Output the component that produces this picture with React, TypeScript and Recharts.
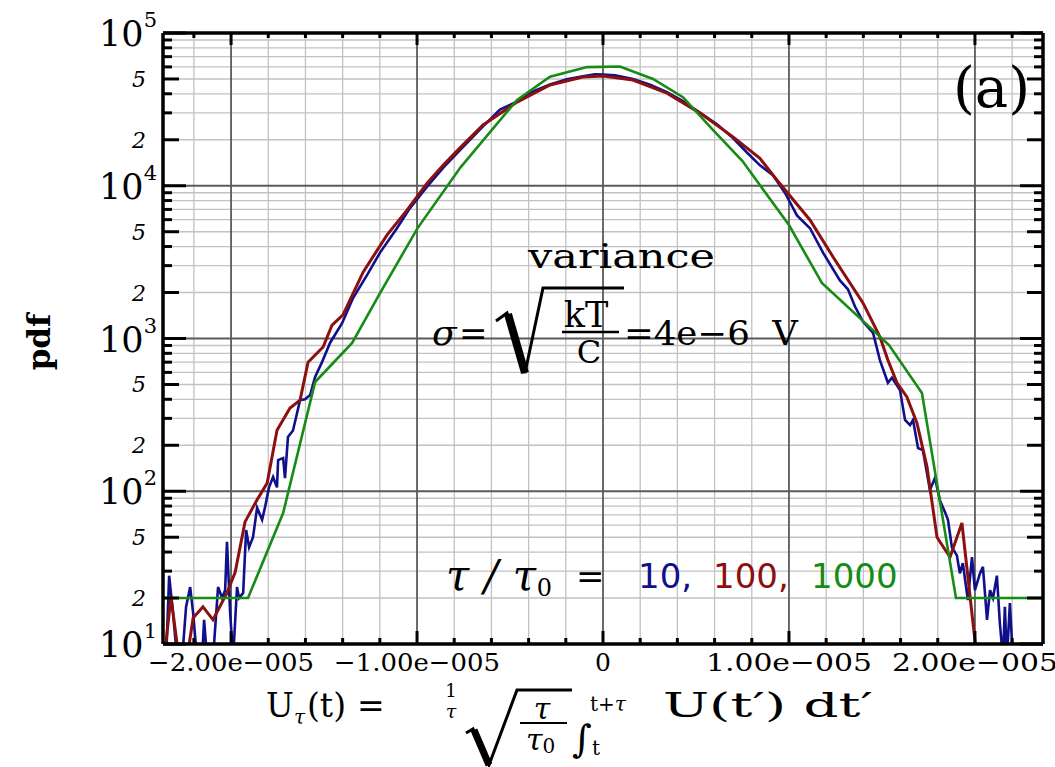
import React from 'react';
import { LineChart, Line, XAxis, YAxis, CartesianGrid } from 'recharts';

// x values are in units of 1e-5 V, y values are pdf counts
const blueX = [
  -2.349, -2.333, -2.312, -2.29, -2.263, -2.242, -2.22, -2.204, -2.183, -2.156,
  -2.145, -2.129, -2.097, -2.07, -2.048, -2.032, -2.022, -2.005, -1.989, -1.968,
  -1.957, -1.935, -1.919, -1.903, -1.882, -1.86, -1.833, -1.817, -1.796, -1.774,
  -1.753, -1.747, -1.72, -1.71, -1.694, -1.667, -1.629, -1.602, -1.575, -1.548,
  -1.511, -1.468, -1.403, -1.344, -1.269, -1.199, -1.108, -1.038, -0.946, -0.86,
  -0.769, -0.645, -0.554, -0.462, -0.376, -0.285, -0.194, -0.108, -0.043, 0,
  0.065, 0.161, 0.253, 0.344, 0.43, 0.522, 0.613, 0.699, 0.774, 0.844,
  0.914, 0.978, 1.043, 1.113, 1.183, 1.274, 1.317, 1.355, 1.398, 1.452,
  1.489, 1.532, 1.554, 1.597, 1.624, 1.651, 1.667, 1.694, 1.72, 1.758,
  1.785, 1.812, 1.839, 1.855, 1.876, 1.903, 1.919, 1.935, 1.962, 1.984,
  2.0, 2.027, 2.043, 2.065, 2.081, 2.097, 2.118, 2.134, 2.151, 2.161,
  2.172, 2.188, 2.204,
];
const blueY = [
  8, 28, 15.9, 8, 8, 17.5, 23.6, 16, 8, 8,
  14.4, 8, 8, 23.6, 20, 22.5, 46.6, 16, 8, 23.6,
  20, 21.6, 55.7, 43, 50, 78, 65, 79, 106, 124,
  106, 160, 165, 122, 227, 250, 395, 400, 426, 560,
  700, 935, 1260, 1840, 2600, 3650, 5270, 7140, 9850, 13100,
  17100, 24500, 31500, 35600, 41500, 46000, 49800, 52000, 53600, 53500,
  52800, 50000, 45800, 41000, 35800, 30000, 25300, 20500, 16500, 13600,
  11700, 9000, 6400, 5270, 3650, 2400, 2100, 1620, 1290, 1090,
  722, 513, 554, 460, 293, 271, 293, 192, 186, 102,
  122, 87, 73, 65, 43, 38, 29, 33.8, 19.4, 37,
  22.5, 29, 32, 14.4, 22.5, 20, 28, 13.7, 8, 17.5,
  8, 18.5, 8,
];

const redX = [
  -2.36, -2.323, -2.28, -2.237, -2.204, -2.151, -2.097, -2.022, -1.978, -1.925,
  -1.86, -1.806, -1.753, -1.683, -1.629, -1.586, -1.505, -1.457, -1.398, -1.29,
  -1.161, -1.054, -0.946, -0.86, -0.769, -0.645, -0.462, -0.285, -0.108, 0,
  0.161, 0.344, 0.522, 0.699, 0.844, 0.935, 1.113, 1.237, 1.398, 1.489,
  1.532, 1.581, 1.634, 1.688, 1.742, 1.796, 1.866, 1.93, 2.011,
];
const redY = [
  8, 20.3, 8, 8, 14.8, 17.5, 14.4, 21.6, 29.5, 63,
  88, 113, 251, 351, 395, 700, 880, 1225, 1430, 2720,
  4770, 6930, 10400, 13600, 17700, 25000, 35300, 45700, 51500, 52300,
  49200, 40400, 29900, 20900, 15100, 10900, 5970, 3420, 1710, 1025,
  722, 513, 414, 280, 145, 50, 37, 62, 8,
];

const greenX = [
  -2.366, -1.909, -1.72, -1.548, -1.349, -1.199, -0.997, -0.766, -0.462, -0.285,
  -0.086, 0.091, 0.269, 0.43, 0.591, 0.75, 1.0, 1.177, 1.538, 1.715,
  1.898, 2.366,
];
const greenY = [
  20, 20, 72, 519, 935, 1985, 5280, 13200, 36500, 51800,
  59800, 60400, 50000, 38000, 23200, 14500, 5530, 2310, 906, 440,
  20, 20,
];

const xMajor = [-2, -1, 0, 1, 2];
const xMinor = [
  -2.2, -1.8, -1.6, -1.4, -1.2, -0.8, -0.6, -0.4, -0.2,
  0.2, 0.4, 0.6, 0.8, 1.2, 1.4, 1.6, 1.8, 2.2,
];
const yDecades = [10, 100, 1000, 10000, 100000];
const yMantissas = [2, 3, 4, 5, 6, 7, 8, 9];
const yMinor = yDecades.slice(0, 4).flatMap((d) => yMantissas.map((m) => m * d));

const xTicks = [...xMajor, ...xMinor].sort((a, b) => a - b);
const yTicks = [...yDecades, ...yMinor].sort((a, b) => a - b);

const X_DOMAIN = [-2.366, 2.366];
const Y_DOMAIN = [10, 100000];

const W = 1055;
const H = 767;
const PLOT_LEFT = 163;
const PLOT_RIGHT = 1043;
const PLOT_TOP = 33;
const PLOT_BOTTOM = 644;

const BLUE = '#10108c';
const RED = '#8c1010';
const GREEN = '#168c16';
const SERIF = '"DejaVu Serif", serif';

const toPoints = (xs: number[], ys: number[]) => xs.map((x, i) => ({ x, y: ys[i] }));
const blueData = toPoints(blueX, blueY);
const redData = toPoints(redX, redY);
const greenData = toPoints(greenX, greenY);

const mantissa = (v: number) => Math.round(v / Math.pow(10, Math.floor(Math.log10(v) + 1e-9)));
const yTickLen = (v: number) => {
  const m = mantissa(v);
  return m === 1 ? 23 : m === 2 || m === 5 ? 16 : 9;
};
const isMajorX = (v: number) => Math.abs(v - Math.round(v)) < 1e-6;

const formatX = (v: number) => {
  if (Math.abs(v) < 1e-9) return '0';
  return `${v < 0 ? '\u2212' : ''}${Math.abs(v).toFixed(2)}e\u2212005`;
};

const LeftTick = (props: any) => {
  const { y, payload } = props;
  const v = payload.value;
  const m = mantissa(v);
  let label = null;
  if (m === 1) {
    const e = Math.round(Math.log10(v));
    label = (
      <text x={157} y={y + 13} textAnchor="end" fontFamily={SERIF} fill="#000">
        <tspan fontSize={35}>10</tspan>
        <tspan fontSize={21} dy={-19}>{e}</tspan>
      </text>
    );
  } else if (m === 2 || m === 5) {
    label = (
      <text x={146} y={y + 8} textAnchor="end" fontFamily={SERIF} fontStyle="italic" fontSize={22} fill="#000">
        {m}
      </text>
    );
  }
  return (
    <g>
      <line x1={PLOT_LEFT} x2={PLOT_LEFT + yTickLen(v)} y1={y} y2={y} stroke="#000" strokeWidth={3} />
      {label}
    </g>
  );
};

const RightTick = (props: any) => {
  const { y, payload } = props;
  return (
    <line x1={PLOT_RIGHT - yTickLen(payload.value)} x2={PLOT_RIGHT} y1={y} y2={y} stroke="#000" strokeWidth={3} />
  );
};

const BottomTick = (props: any) => {
  const { x, payload } = props;
  const v = payload.value;
  const major = isMajorX(v);
  const label = formatX(v);
  return (
    <g>
      <line x1={x} x2={x} y1={PLOT_BOTTOM} y2={PLOT_BOTTOM - (major ? 13 : 6)} stroke="#000" strokeWidth={3} />
      {major && (
        <text
          x={x}
          y={671}
          textAnchor="middle"
          fontFamily={SERIF}
          fontSize={25}
          fill="#000"
          textLength={label.length > 1 ? 166 : undefined}
          lengthAdjust="spacingAndGlyphs"
        >
          {label}
        </text>
      )}
    </g>
  );
};

const TopTick = (props: any) => {
  const { x, payload } = props;
  const major = isMajorX(payload.value);
  return <line x1={x} x2={x} y1={PLOT_TOP} y2={PLOT_TOP + (major ? 12 : 5)} stroke="#000" strokeWidth={3} />;
};

const frame = { stroke: '#000', strokeWidth: 3.5 };

function Annotations() {
  return (
    <svg
      width={W}
      height={H}
      style={{ position: 'absolute', left: 0, top: 0, pointerEvents: 'none' }}
      fontFamily={SERIF}
    >
      {/* panel tag */}
      <text x={1030} y={107} textAnchor="end" fontSize={56}>(a)</text>

      {/* y axis title */}
      <text x={50} y={342} fontSize={31} fontWeight="bold" textAnchor="middle" transform="rotate(-90 50 342)">
        pdf
      </text>

      {/* variance formula */}
      <text x={528} y={268} fontSize={33} textLength={187} lengthAdjust="spacingAndGlyphs">
        variance
      </text>
      <text x={432} y={345} fontSize={36} fontStyle="italic">σ</text>
      <text x={459} y={345} fontSize={34}>=</text>
      <polyline points="496,321 507,313 525,373 543,288 624,288" fill="none" stroke="#000" strokeWidth={3} />
      <line x1={508} y1={314} x2={525} y2={373} stroke="#000" strokeWidth={8} />
      <text x={586} y={327} fontSize={35} textAnchor="middle">kT</text>
      <line x1={562} x2={619} y1={332} y2={332} stroke="#000" strokeWidth={2.5} />
      <text x={589} y={363} fontSize={32} textAnchor="middle">C</text>
      <text x={624} y={345} fontSize={34} textLength={174} lengthAdjust="spacingAndGlyphs">
        =4e{'\u2212'}6{'\u00a0\u00a0'}V
      </text>

      {/* averaging times */}
      <text x={446} y={590} fontSize={42} fontStyle="italic" textLength={106} lengthAdjust="spacing">
        τ / τ<tspan fontSize={24} fontStyle="normal" dy={6}>0</tspan>
      </text>
      <text x={576} y={588} fontSize={34}>=</text>
      <text y={588} fontSize={34} fontFamily='"DejaVu Sans", sans-serif'>
        <tspan x={638} fill={BLUE}>10,</tspan>
        <tspan x={713} fill={RED}>100,</tspan>
        <tspan x={811} fill={GREEN}>1000</tspan>
      </text>

      {/* x axis title */}
      <text x={266} y={717} fontSize={33}>U</text>
      <text x={294} y={724} fontSize={20} fontStyle="italic">τ</text>
      <text x={307} y={717} fontSize={33}>(t)</text>
      <text x={357} y={717} fontSize={33}>=</text>
      <text x={451} y={697} fontSize={18} textAnchor="middle">1</text>
      <text x={451} y={718} fontSize={19} fontStyle="italic" textAnchor="middle">τ</text>
      <polyline points="466,733 473,729 489,765 517,690 572,690" fill="none" stroke="#000" strokeWidth={3} />
      <line x1={474} y1={730} x2={489} y2={765} stroke="#000" strokeWidth={7} />
      <text x={542} y={719} fontSize={30} fontStyle="italic" textAnchor="middle">τ</text>
      <line x1={520} x2={567} y1={723} y2={723} stroke="#000" strokeWidth={2} />
      <text x={526} y={750} fontSize={30} fontStyle="italic">
        τ<tspan fontSize={20} fontStyle="normal" dy={3}>0</tspan>
      </text>
      <text x={572} y={752} fontSize={38} fontStyle="italic">∫</text>
      <text x={590} y={711} fontSize={20}>
        t+<tspan fontStyle="italic">τ</tspan>
      </text>
      <text x={592} y={755} fontSize={20}>t</text>
      <text x={663} y={717} fontSize={33} textLength={210} lengthAdjust="spacingAndGlyphs">
        U(t{'\u2032'}) dt{'\u2032'}
      </text>
    </svg>
  );
}

export default function App() {
  return (
    <div style={{ position: 'absolute', left: 0, top: 0, width: W, height: H, background: '#fff' }}>
      <LineChart width={W} height={H} margin={{ top: 32, right: 0, bottom: 63, left: 0 }}>
        <CartesianGrid verticalValues={xMinor} horizontalValues={yMinor} stroke="#c2c2c2" strokeWidth={1.3} />
        <CartesianGrid verticalValues={xMajor} horizontalValues={yDecades} stroke="#5a5a5a" strokeWidth={1.8} />
        <XAxis
          dataKey="x"
          type="number"
          domain={X_DOMAIN}
          allowDataOverflow
          ticks={xTicks}
          interval={0}
          tick={<BottomTick />}
          tickLine={false}
          axisLine={frame}
          height={60}
        />
        <XAxis
          xAxisId="top"
          orientation="top"
          dataKey="x"
          type="number"
          domain={X_DOMAIN}
          allowDataOverflow
          ticks={xTicks}
          interval={0}
          tick={<TopTick />}
          tickLine={false}
          axisLine={frame}
          height={1}
        />
        <YAxis
          scale="log"
          type="number"
          domain={Y_DOMAIN}
          allowDataOverflow
          ticks={yTicks}
          interval={0}
          tick={<LeftTick />}
          tickLine={false}
          axisLine={frame}
          width={163}
        />
        <YAxis
          yAxisId="right"
          orientation="right"
          scale="log"
          type="number"
          domain={Y_DOMAIN}
          allowDataOverflow
          ticks={yTicks}
          interval={0}
          tick={<RightTick />}
          tickLine={false}
          axisLine={frame}
          width={12}
        />
        <Line data={blueData} dataKey="y" type="linear" stroke={BLUE} strokeWidth={2.6} dot={false} isAnimationActive={false} />
        <Line data={redData} dataKey="y" type="linear" stroke={RED} strokeWidth={3} dot={false} isAnimationActive={false} />
        <Line data={greenData} dataKey="y" type="linear" stroke={GREEN} strokeWidth={2.6} dot={false} isAnimationActive={false} />
      </LineChart>
      <Annotations />
    </div>
  );
}
